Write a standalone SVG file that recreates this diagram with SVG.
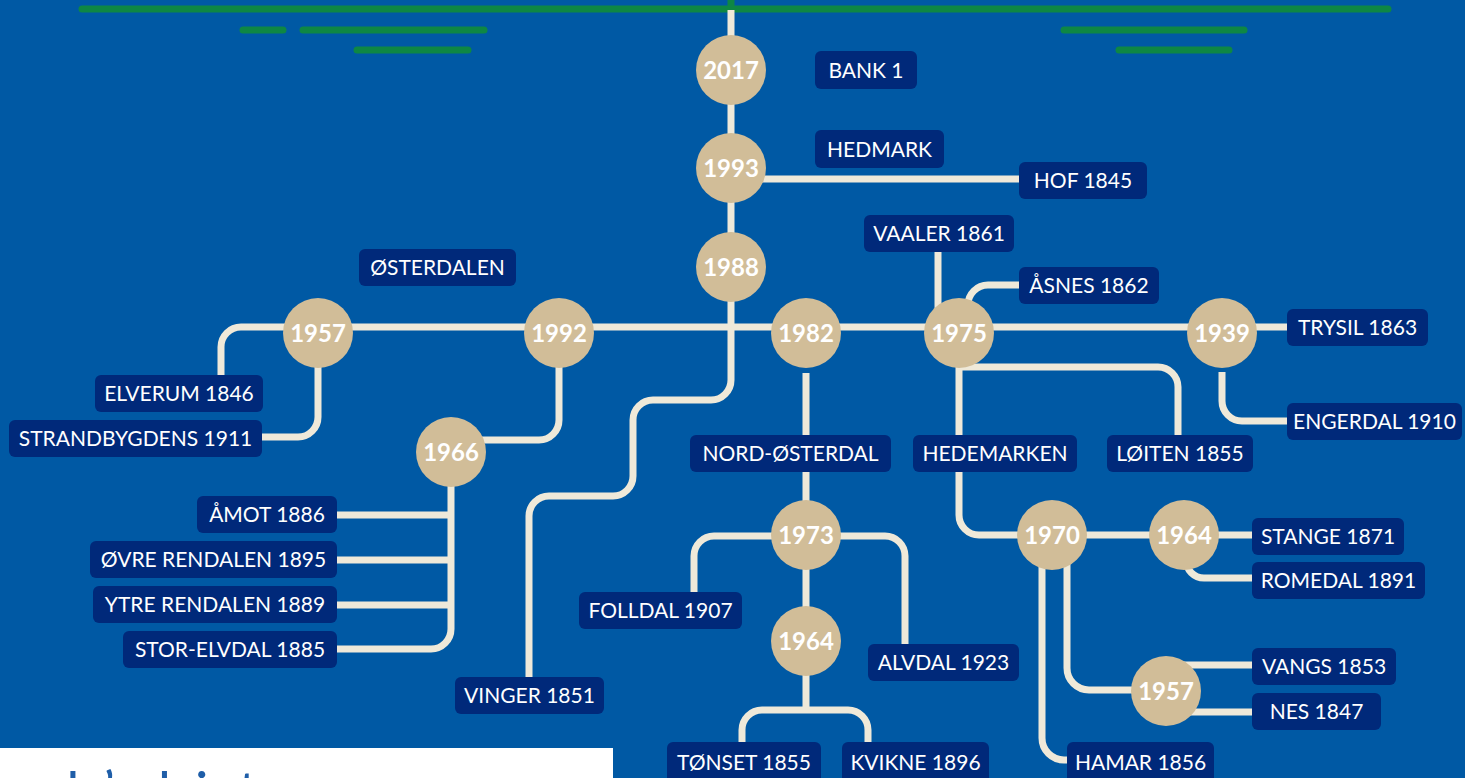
<svg xmlns="http://www.w3.org/2000/svg" width="1465" height="778" viewBox="0 0 1465 778">
<style>
.bg{fill:#0059A4}
.g{stroke:#0E8744;stroke-width:7;stroke-linecap:round;fill:none}
.c{stroke:#EFE9D9;stroke-width:7;fill:none}
.lb{fill:#00297A}
.lt{fill:#FFFFFF;font-family:Lato,"Liberation Sans",sans-serif;font-size:21px;text-anchor:middle}
.cc{fill:#D1BD98}
.ct{fill:#FFFFFF;font-family:Lato,"Liberation Sans",sans-serif;font-size:24px;font-weight:700;text-anchor:middle}
.tt{fill:#1F5EA8;font-family:Lato,"Liberation Sans",sans-serif;font-size:56px}
</style>
<rect class="bg" x="0" y="0" width="1465" height="778"/>
<g id="decor">
<path class="g" d="M82,9 H1388 M731,0 V9 M243,30 H283 M303,30 H484 M357,50 H468 M1064,30 H1244 M1119,50 H1229"/>
</g>
<g id="connectors">
<path class="c" d="M731,10 V380 A20,20 0 0 1 711,400 H653 A20,20 0 0 0 633,420 V476 A20,20 0 0 1 613,496 H549 A20,20 0 0 0 529,516 V678"/>
<path class="c" d="M731,179 H1020"/>
<path class="c" d="M1288,327 H241 A20,20 0 0 0 221,347 V376"/>
<path class="c" d="M318,333 V417 A20,20 0 0 1 298,437 H262"/>
<path class="c" d="M559,333 V420 A20,20 0 0 1 539,440 H451"/>
<path class="c" d="M451,452 V629 A20,20 0 0 1 431,649 H336 M336,515 H451 M336,560 H451 M336,605 H451"/>
<path class="c" d="M806,373 V436 M806,471 V535"/>
<path class="c" d="M806,536 H714 A20,20 0 0 0 694,556 V593 M806,536 H885 A20,20 0 0 1 905,556 V645"/>
<path class="c" d="M806,535 V710 H762 A20,20 0 0 0 742,730 V743 M806,710 H848 A20,20 0 0 1 868,730 V743"/>
<path class="c" d="M938,251 V320"/>
<path class="c" d="M968,305 A20,20 0 0 1 988,285 H1020"/>
<path class="c" d="M959,333 V436 M959,471 V515 A20,20 0 0 0 979,535 H1252"/>
<path class="c" d="M959,367 H1158 A20,20 0 0 1 1178,387 V436"/>
<path class="c" d="M1222,372 V401 A20,20 0 0 0 1242,421 H1288"/>
<path class="c" d="M1186,560 A18,18 0 0 0 1204,578 H1253"/>
<path class="c" d="M1042,535 V738 A22,22 0 0 0 1064,760 H1068"/>
<path class="c" d="M1067,535 V668 A22,22 0 0 0 1089,690 H1166"/>
<path class="c" d="M1166,665 H1253 M1166,712 H1253"/>
</g>
<g id="n2017"><circle class="cc" cx="731" cy="70" r="35"/><text class="ct" x="731" y="78.5">2017</text></g>
<g id="n1993"><circle class="cc" cx="731" cy="168" r="35"/><text class="ct" x="731" y="176.5">1993</text></g>
<g id="n1988"><circle class="cc" cx="731" cy="267" r="35"/><text class="ct" x="731" y="275.5">1988</text></g>
<g id="n1957a"><circle class="cc" cx="318" cy="333" r="35"/><text class="ct" x="318" y="341.5">1957</text></g>
<g id="n1992"><circle class="cc" cx="559" cy="333" r="35"/><text class="ct" x="559" y="341.5">1992</text></g>
<g id="n1982"><circle class="cc" cx="806" cy="333" r="35"/><text class="ct" x="806" y="341.5">1982</text></g>
<g id="n1975"><circle class="cc" cx="959" cy="333" r="35"/><text class="ct" x="959" y="341.5">1975</text></g>
<g id="n1939"><circle class="cc" cx="1222" cy="333" r="35"/><text class="ct" x="1222" y="341.5">1939</text></g>
<g id="n1966"><circle class="cc" cx="451" cy="452" r="35"/><text class="ct" x="451" y="460.5">1966</text></g>
<g id="n1973"><circle class="cc" cx="806" cy="535" r="35"/><text class="ct" x="806" y="543.5">1973</text></g>
<g id="n1964a"><circle class="cc" cx="806" cy="641" r="35"/><text class="ct" x="806" y="649.5">1964</text></g>
<g id="n1970"><circle class="cc" cx="1052" cy="535" r="35"/><text class="ct" x="1052" y="543.5">1970</text></g>
<g id="n1964b"><circle class="cc" cx="1184" cy="535" r="35"/><text class="ct" x="1184" y="543.5">1964</text></g>
<g id="n1957b"><circle class="cc" cx="1166" cy="691" r="35"/><text class="ct" x="1166" y="699.5">1957</text></g>
<g id="bank1"><rect class="lb" x="815" y="51" width="102" height="38" rx="6"/><text class="lt" x="866" y="78">BANK 1</text></g>
<g id="hedmark"><rect class="lb" x="815" y="130" width="129" height="38" rx="6"/><text class="lt" x="879.5" y="157">HEDMARK</text></g>
<g id="hof"><rect class="lb" x="1019" y="162" width="128" height="37" rx="6"/><text class="lt" x="1083" y="188">HOF 1845</text></g>
<g id="vaaler"><rect class="lb" x="864" y="215" width="150" height="37" rx="6"/><text class="lt" x="939" y="241">VAALER 1861</text></g>
<g id="asnes"><rect class="lb" x="1019" y="267" width="140" height="37" rx="6"/><text class="lt" x="1089" y="293">ÅSNES 1862</text></g>
<g id="trysil"><rect class="lb" x="1287" y="309" width="141" height="37" rx="6"/><text class="lt" x="1357.5" y="335">TRYSIL 1863</text></g>
<g id="engerdal"><rect class="lb" x="1287" y="403" width="175" height="37" rx="6"/><text class="lt" x="1374.5" y="429">ENGERDAL 1910</text></g>
<g id="loiten"><rect class="lb" x="1107" y="435" width="146" height="37" rx="6"/><text class="lt" x="1180" y="461">LØITEN 1855</text></g>
<g id="hedemarken"><rect class="lb" x="913" y="435" width="164" height="37" rx="6"/><text class="lt" x="995" y="461">HEDEMARKEN</text></g>
<g id="nordosterdal"><rect class="lb" x="690" y="435" width="201" height="37" rx="6"/><text class="lt" x="790.5" y="461">NORD-ØSTERDAL</text></g>
<g id="osterdalen"><rect class="lb" x="359" y="249" width="157" height="37" rx="6"/><text class="lt" x="437.5" y="275">ØSTERDALEN</text></g>
<g id="elverum"><rect class="lb" x="95" y="375" width="168" height="37" rx="6"/><text class="lt" x="179" y="401">ELVERUM 1846</text></g>
<g id="strandbygdens"><rect class="lb" x="9" y="420" width="253" height="37" rx="6"/><text class="lt" x="135.5" y="446">STRANDBYGDENS 1911</text></g>
<g id="amot"><rect class="lb" x="197" y="496" width="140" height="37" rx="6"/><text class="lt" x="267" y="522">ÅMOT 1886</text></g>
<g id="ovrerendalen"><rect class="lb" x="90" y="541" width="247" height="37" rx="6"/><text class="lt" x="213.5" y="567">ØVRE RENDALEN 1895</text></g>
<g id="ytrerendalen"><rect class="lb" x="93" y="586" width="244" height="37" rx="6"/><text class="lt" x="215" y="612">YTRE RENDALEN 1889</text></g>
<g id="storelvdal"><rect class="lb" x="123" y="631" width="214" height="37" rx="6"/><text class="lt" x="230" y="657">STOR-ELVDAL 1885</text></g>
<g id="vinger"><rect class="lb" x="455" y="677" width="149" height="37" rx="6"/><text class="lt" x="529.5" y="703">VINGER 1851</text></g>
<g id="folldal"><rect class="lb" x="579" y="592" width="163" height="37" rx="6"/><text class="lt" x="660.5" y="618">FOLLDAL 1907</text></g>
<g id="alvdal"><rect class="lb" x="868" y="644" width="151" height="37" rx="6"/><text class="lt" x="943.5" y="670">ALVDAL 1923</text></g>
<g id="tonset"><rect class="lb" x="667" y="742" width="154" height="44" rx="6"/><text class="lt" x="744" y="770">TØNSET 1855</text></g>
<g id="kvikne"><rect class="lb" x="842" y="742" width="147" height="44" rx="6"/><text class="lt" x="915.5" y="770">KVIKNE 1896</text></g>
<g id="hamar"><rect class="lb" x="1067" y="742" width="147" height="44" rx="6"/><text class="lt" x="1140.5" y="770">HAMAR 1856</text></g>
<g id="stange"><rect class="lb" x="1252" y="518" width="152" height="37" rx="6"/><text class="lt" x="1328" y="544">STANGE 1871</text></g>
<g id="romedal"><rect class="lb" x="1252" y="562" width="173" height="37" rx="6"/><text class="lt" x="1338.5" y="588">ROMEDAL 1891</text></g>
<g id="vangs"><rect class="lb" x="1252" y="648" width="144" height="37" rx="6"/><text class="lt" x="1324" y="674">VANGS 1853</text></g>
<g id="nes"><rect class="lb" x="1252" y="693" width="129" height="37" rx="6"/><text class="lt" x="1316.5" y="719">NES 1847</text></g>
<g id="titlebox">
<rect x="0" y="748" width="613" height="40" fill="#FFFFFF"/>
<text class="tt" y="812"><tspan x="48">d</tspan><tspan x="103">’</tspan><tspan x="158">h</tspan><tspan x="195">i</tspan><tspan x="238">t</tspan></text>
</g>
</svg>
